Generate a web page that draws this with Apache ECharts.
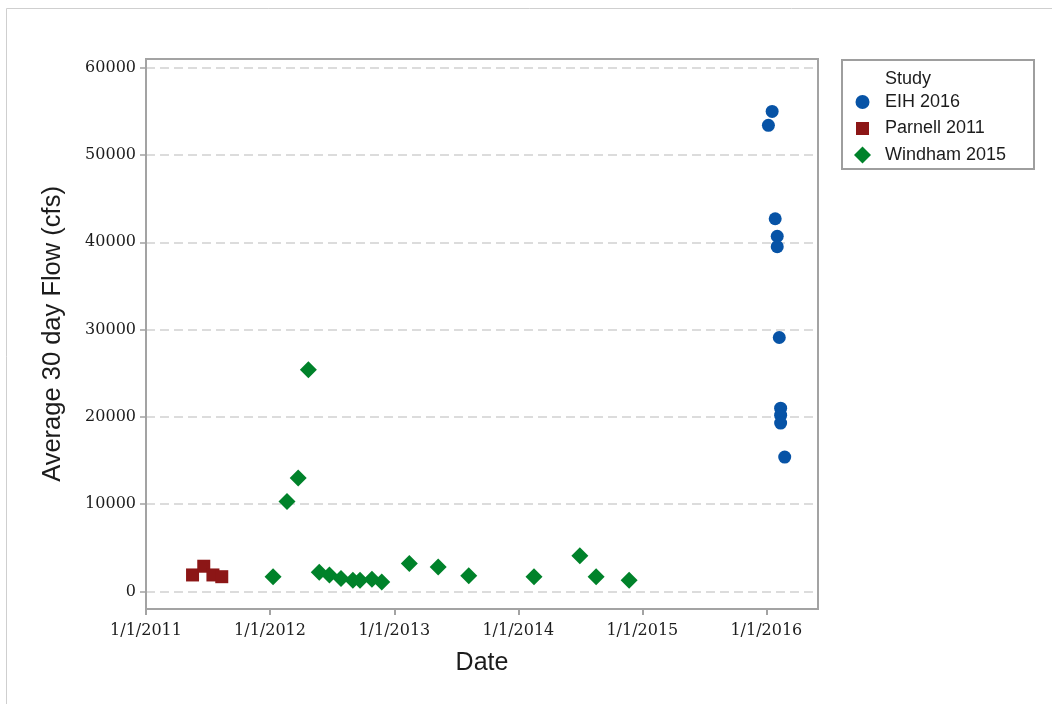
<!DOCTYPE html>
<html>
<head>
<meta charset="utf-8">
<script src="https://cdn.jsdelivr.net/npm/echarts@6/dist/echarts.min.js"></script>
<style>
  html, body { margin: 0; padding: 0; background: #ffffff; }
  #chart { width: 1052px; height: 704px; }
</style>
</head>
<body>
<div id="chart"></div>
<script>
// Study sample dates and their average 30-day flows (cfs)
const parnellDates = ['2011-05-18', '2011-06-20', '2011-07-17', '2011-08-12'];
const parnellFlow  = [1900, 2900, 1900, 1700];

const windhamDates = [
  '2012-01-10', '2012-02-20', '2012-03-24', '2012-04-23', '2012-05-25', '2012-06-24',
  '2012-07-28', '2012-09-01', '2012-09-22', '2012-10-27', '2012-11-25', '2013-02-14',
  '2013-05-10', '2013-08-08', '2014-02-16', '2014-07-01', '2014-08-18', '2014-11-23'
];
const windhamFlow = [
  1700, 10300, 13000, 25400, 2200, 1900,
  1500, 1300, 1300, 1400, 1100, 3200,
  2800, 1800, 1700, 4100, 1700, 1300
];

const eihDates = [
  '2016-01-07', '2016-01-18', '2016-01-27', '2016-02-02', '2016-02-02',
  '2016-02-08', '2016-02-12', '2016-02-12', '2016-02-12', '2016-02-24'
];
const eihFlow = [53400, 55000, 42700, 40700, 39500, 29100, 21000, 20200, 19300, 15400];

// Axis ticks
const xTickDates = ['2011-01-01', '2012-01-01', '2013-01-01', '2014-01-01', '2015-01-01', '2016-01-01'];
const yTicks = [0, 10000, 20000, 30000, 40000, 50000, 60000];

function ts(s) {
  const p = s.split('-').map(Number);
  return Date.UTC(p[0], p[1] - 1, p[2]);
}
function fmtDate(v) {
  const d = new Date(v);
  return (d.getUTCMonth() + 1) + '/' + d.getUTCDate() + '/' + d.getUTCFullYear();
}
function pairs(dates, vals) {
  return dates.map((d, i) => [ts(d), vals[i]]);
}

const axisGray = '#a3a3a3';
const textDark = '#1c1c1c';
const tickFont = 'DejaVu Serif';
const sansFont = 'Liberation Sans, Arial, sans-serif';

// Legend icons share one 17px box; the leading moves pin the box so the
// circle and square sit a little smaller than the diamond.
const iconCircle  = 'path://M0,0M17,17M15.5,8.5A7,7,0,1,1,1.5,8.5A7,7,0,1,1,15.5,8.5Z';
const iconSquare  = 'path://M0,0M17,17M2,2L15,2L15,15L2,15Z';
const iconDiamond = 'path://M8.5,0L17,8.5L8.5,17L0,8.5Z';

const chart = echarts.init(document.getElementById('chart'), null, { renderer: 'canvas' });

chart.setOption({
  backgroundColor: '#ffffff',
  animation: false,
  grid: {
    left: 146, right: 234, top: 59, bottom: 95,
    show: true, borderColor: axisGray, borderWidth: 2, backgroundColor: 'transparent'
  },
  xAxis: {
    type: 'value',
    min: ts('2011-01-01'),
    max: ts('2016-06-01'),
    name: 'Date',
    nameLocation: 'middle',
    nameGap: 42,
    nameTextStyle: { fontFamily: sansFont, fontSize: 25, color: textDark },
    axisLine: { show: true, onZero: false, lineStyle: { color: axisGray, width: 2 } },
    axisTick: { show: true, length: 6, customValues: xTickDates.map(ts), lineStyle: { color: axisGray, width: 2 } },
    axisLabel: {
      customValues: xTickDates.map(ts),
      formatter: fmtDate,
      margin: 14,
      fontFamily: tickFont, fontSize: 16, color: textDark
    },
    splitLine: { show: false }
  },
  yAxis: {
    type: 'value',
    min: -2000,
    max: 61000,
    name: 'Average 30 day Flow (cfs)',
    nameLocation: 'middle',
    nameGap: 80,
    nameTextStyle: { fontFamily: sansFont, fontSize: 25.5, color: textDark },
    axisLine: { show: true, onZero: false, lineStyle: { color: axisGray, width: 2 } },
    axisTick: { show: true, length: 6, customValues: yTicks, lineStyle: { color: axisGray, width: 1.5 } },
    axisLabel: {
      customValues: yTicks,
      formatter: v => String(v),
      margin: 10,
      fontFamily: tickFont, fontSize: 16, color: textDark
    },
    splitLine: {
      show: true,
      lineStyle: { color: '#dcdcdc', width: 2, type: [9, 5] }
    }
  },
  legend: {
    orient: 'vertical',
    left: 849,
    top: 88,
    padding: 5,
    itemWidth: 17,
    itemHeight: 17,
    itemGap: 8.5,
    textStyle: { fontFamily: sansFont, fontSize: 18, color: textDark, padding: [0, 0, 0, 9] },
    data: [
      { name: 'EIH 2016', icon: iconCircle },
      { name: 'Parnell 2011', icon: iconSquare },
      { name: 'Windham 2015', icon: iconDiamond }
    ]
  },
  graphic: [
    {
      type: 'rect', silent: true, z: -10,
      shape: { x: 6.5, y: 8.5, width: 1200, height: 900 },
      style: { fill: 'none', stroke: '#cfcfcf', lineWidth: 1 }
    },
    {
      type: 'rect', silent: true,
      shape: { x: 842, y: 60, width: 192, height: 109 },
      style: { fill: 'none', stroke: '#9e9e9e', lineWidth: 2 }
    },
    {
      type: 'text', silent: true,
      left: 885, top: 70,
      style: { text: 'Study', fontFamily: sansFont, fontSize: 18, fill: textDark }
    }
  ],
  series: [
    {
      name: 'EIH 2016', type: 'scatter', symbol: 'circle', symbolSize: 13,
      itemStyle: { color: '#0753a6', opacity: 1 },
      data: pairs(eihDates, eihFlow)
    },
    {
      name: 'Parnell 2011', type: 'scatter', symbol: 'rect', symbolSize: 13,
      itemStyle: { color: '#8c1616', opacity: 1 },
      data: pairs(parnellDates, parnellFlow)
    },
    {
      name: 'Windham 2015', type: 'scatter', symbol: 'diamond', symbolSize: 17,
      itemStyle: { color: '#00822a', opacity: 1 },
      data: pairs(windhamDates, windhamFlow)
    }
  ]
});
</script>
</body>
</html>
